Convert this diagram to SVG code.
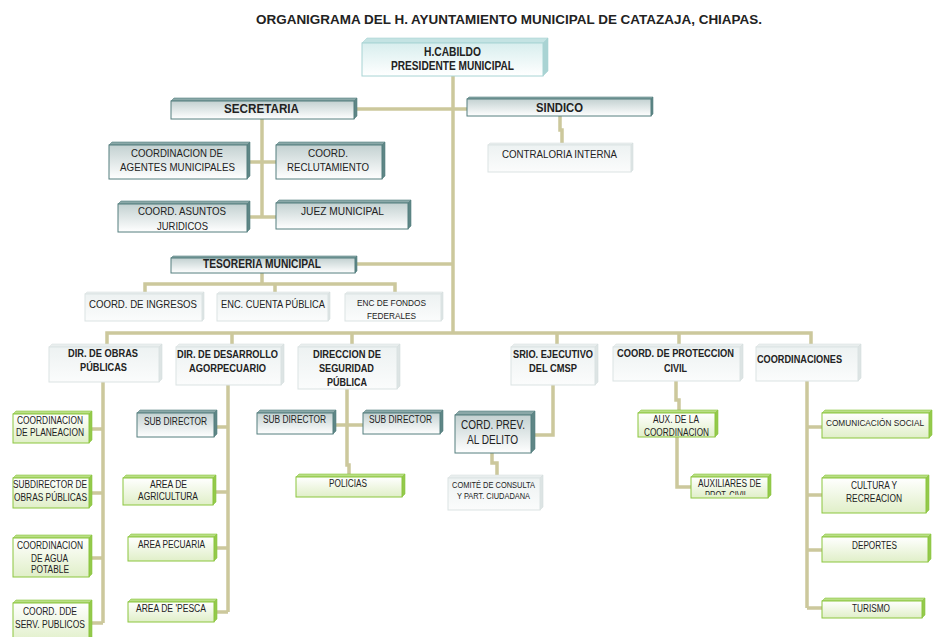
<svg xmlns="http://www.w3.org/2000/svg" width="933" height="637" viewBox="0 0 933 637">
<defs>
<linearGradient id="gDk" x1="0" y1="0" x2="0" y2="1"><stop offset="0" stop-color="#c3d1d1"/><stop offset="1" stop-color="#ffffff"/></linearGradient>
<linearGradient id="gLt" x1="0" y1="0" x2="0" y2="1"><stop offset="0" stop-color="#edf2f2"/><stop offset="1" stop-color="#fbfcfc"/></linearGradient>
<linearGradient id="gGr" x1="0" y1="0" x2="0" y2="1"><stop offset="0" stop-color="#ffffff"/><stop offset="1" stop-color="#e0efc8"/></linearGradient>
<linearGradient id="gCy" x1="0" y1="0" x2="0" y2="1"><stop offset="0" stop-color="#d8eeee"/><stop offset="1" stop-color="#ffffff"/></linearGradient>
<clipPath id="clipAux"><rect x="690" y="470" width="80" height="25"/></clipPath>
</defs>
<style>
text{font-family:"Liberation Sans",Arial,sans-serif;fill:#222;}
.b{font-weight:bold;}
.conn{fill:none;stroke:#ccc89c;stroke-width:3.5;stroke-linejoin:miter;}
.dk{fill:url(#gDk);stroke:#557f7f;stroke-width:1;}
.dkt{fill:#8aa8a8;stroke:#557f7f;stroke-width:0.6;}
.dks{fill:#5f8686;stroke:#557f7f;stroke-width:0.6;}
.lt{fill:url(#gLt);stroke:#dbe3e3;stroke-width:1;}
.ltt{fill:#e9eeee;stroke:#dbe3e3;stroke-width:0.6;}
.lts{fill:#dde4e4;stroke:#d5dddd;stroke-width:0.6;}
.gr{fill:url(#gGr);stroke:#8cc63f;stroke-width:1;}
.grt{fill:#b9de85;stroke:#8cc63f;stroke-width:0.6;}
.grs{fill:#94c94c;stroke:#8cc63f;stroke-width:0.6;}
.cy{fill:url(#gCy);stroke:#a8d4d4;stroke-width:1;}
.cyt{fill:#c4e3e3;stroke:#a8d4d4;stroke-width:0.6;}
.cys{fill:#a9d3d3;stroke:#a8d4d4;stroke-width:0.6;}
</style>
<rect width="933" height="637" fill="#ffffff"/>
<text class="b" x="256" y="24" font-size="13.5" textLength="506" lengthAdjust="spacingAndGlyphs">ORGANIGRAMA DEL H. AYUNTAMIENTO MUNICIPAL DE CATAZAJA, CHIAPAS.</text>

<g id="connectors">
<path class="conn" d="M453,76 V333"/>
<path class="conn" d="M356,109 H467"/>
<path class="conn" d="M262,119 V218"/>
<path class="conn" d="M250,162 H276"/>
<path class="conn" d="M247,217 H276"/>
<path class="conn" d="M560,116 V130 H562 V145"/>
<path class="conn" d="M357,264 H453"/>
<path class="conn" d="M262,273 V284 M145,294 V284 H395 V294 M275,284 V294"/>
<path class="conn" d="M107,347 V333 H811 V347 M232,333 V347 M352,333 V347 M557,333 V347 M679,333 V347"/>
<path class="conn" d="M103,382 V623 M90,429 H103 M90,493 H103 M90,558 H103 M90,623 H103"/>
<path class="conn" d="M228,385 V612 M215,427 H228 M215,492 H228 M215,548 H228 M215,612 H228"/>
<path class="conn" d="M347,389 V465 H349 V477 M333,425 H363"/>
<path class="conn" d="M553,385 V435 H535"/>
<path class="conn" d="M492,453 V463 H497 V478"/>
<path class="conn" d="M676,381 V400 H679 V413"/>
<path class="conn" d="M677,437 V487 H691"/>
<path class="conn" d="M807,381 V608 M807,427 H822 M807,495 H822 M807,550 H822 M807,608 H822"/>
</g>

<g id="n-cabildo">
<polygon class="cyt" points="362,43 367,38 548,38 543,43"/>
<polygon class="cys" points="543,43 548,38 548,71 543,76"/>
<rect class="cy" x="362" y="43" width="181" height="33"/>
<text class="b" x="424" y="56" font-size="12" textLength="57" lengthAdjust="spacingAndGlyphs">H.CABILDO</text>
<text class="b" x="391" y="70" font-size="12" textLength="123" lengthAdjust="spacingAndGlyphs">PRESIDENTE MUNICIPAL</text>
</g>

<g id="n-secretaria">
<polygon class="dkt" points="171,101 174,98 357,98 354,101"/>
<polygon class="dks" points="354,101 357,98 357,116 354,119"/>
<rect class="dk" x="171" y="101" width="183" height="18"/>
<text class="b" x="224" y="113" font-size="13.5" textLength="75" lengthAdjust="spacingAndGlyphs">SECRETARIA</text>
</g>

<g id="n-sindico">
<polygon class="dkt" points="467,99 469,97 653,97 651,99"/>
<polygon class="dks" points="651,99 653,97 653,114 651,116"/>
<rect class="dk" x="467" y="99" width="184" height="17"/>
<text class="b" x="536" y="112" font-size="13.5" textLength="47" lengthAdjust="spacingAndGlyphs">SINDICO</text>
</g>

<g id="n-contraloria">
<polygon class="ltt" points="488,145 490,143 633,143 631,145"/>
<polygon class="lts" points="631,145 633,143 633,170 631,172"/>
<rect class="lt" x="488" y="145" width="143" height="27"/>
<text x="502" y="158" font-size="11" textLength="115" lengthAdjust="spacingAndGlyphs">CONTRALORIA INTERNA</text>
</g>

<g id="n-agentes">
<polygon class="dkt" points="109,145 112,142 250,142 247,145"/>
<polygon class="dks" points="247,145 250,142 250,176 247,179"/>
<rect class="dk" x="109" y="145" width="138" height="34"/>
<text x="131" y="157" font-size="11" textLength="92" lengthAdjust="spacingAndGlyphs">COORDINACION DE</text>
<text x="120" y="171" font-size="11" textLength="115" lengthAdjust="spacingAndGlyphs">AGENTES MUNICIPALES</text>
</g>

<g id="n-reclutamiento">
<polygon class="dkt" points="276,145 279,142 385,142 382,145"/>
<polygon class="dks" points="382,145 385,142 385,176 382,179"/>
<rect class="dk" x="276" y="145" width="106" height="34"/>
<text x="308" y="157" font-size="11" textLength="40" lengthAdjust="spacingAndGlyphs">COORD.</text>
<text x="287" y="171" font-size="11" textLength="82" lengthAdjust="spacingAndGlyphs">RECLUTAMIENTO</text>
</g>

<g id="n-juridicos">
<polygon class="dkt" points="118,204 121,201 250,201 247,204"/>
<polygon class="dks" points="247,204 250,201 250,229 247,232"/>
<rect class="dk" x="118" y="204" width="129" height="28"/>
<text x="138" y="215" font-size="11" textLength="88" lengthAdjust="spacingAndGlyphs">COORD. ASUNTOS</text>
<text x="157" y="230" font-size="11" textLength="51" lengthAdjust="spacingAndGlyphs">JURIDICOS</text>
</g>

<g id="n-juez">
<polygon class="dkt" points="276,203 279,200 411,200 408,203"/>
<polygon class="dks" points="408,203 411,200 411,226 408,229"/>
<rect class="dk" x="276" y="203" width="132" height="26"/>
<text x="301" y="215" font-size="11.5" textLength="83" lengthAdjust="spacingAndGlyphs">JUEZ MUNICIPAL</text>
</g>

<g id="n-tesoreria">
<polygon class="dkt" points="171,258 173,256 357,256 355,258"/>
<polygon class="dks" points="355,258 357,256 357,271 355,273"/>
<rect class="dk" x="171" y="258" width="184" height="15"/>
<text class="b" x="203" y="268" font-size="12" textLength="118" lengthAdjust="spacingAndGlyphs">TESORERIA MUNICIPAL</text>
</g>

<g id="n-ingresos">
<polygon class="ltt" points="85,294 87,292 204,292 202,294"/>
<polygon class="lts" points="202,294 204,292 204,319 202,321"/>
<rect class="lt" x="85" y="294" width="117" height="27"/>
<text x="89" y="308" font-size="11" textLength="108" lengthAdjust="spacingAndGlyphs">COORD. DE INGRESOS</text>
</g>

<g id="n-cuenta">
<polygon class="ltt" points="217,294 219,292 330,292 328,294"/>
<polygon class="lts" points="328,294 330,292 330,319 328,321"/>
<rect class="lt" x="217" y="294" width="111" height="27"/>
<text x="221" y="308" font-size="11" textLength="104" lengthAdjust="spacingAndGlyphs">ENC. CUENTA PÚBLICA</text>
</g>

<g id="n-fondos">
<polygon class="ltt" points="345,294 347,292 443,292 441,294"/>
<polygon class="lts" points="441,294 443,292 443,319 441,321"/>
<rect class="lt" x="345" y="294" width="96" height="27"/>
<text x="357" y="306" font-size="9.5" textLength="69" lengthAdjust="spacingAndGlyphs">ENC DE FONDOS</text>
<text x="367" y="319" font-size="9.5" textLength="49" lengthAdjust="spacingAndGlyphs">FEDERALES</text>
</g>

<g id="n-obras">
<polygon class="ltt" points="49,347 52,344 162,344 159,347"/>
<polygon class="lts" points="159,347 162,344 162,379 159,382"/>
<rect class="lt" x="49" y="347" width="110" height="35"/>
<text class="b" x="68" y="357" font-size="11" textLength="70" lengthAdjust="spacingAndGlyphs">DIR. DE OBRAS</text>
<text class="b" x="80" y="371" font-size="11" textLength="47" lengthAdjust="spacingAndGlyphs">PÚBLICAS</text>
</g>

<g id="n-desarrollo">
<polygon class="ltt" points="176,347 179,344 284,344 281,347"/>
<polygon class="lts" points="281,347 284,344 284,382 281,385"/>
<rect class="lt" x="176" y="347" width="105" height="38"/>
<text class="b" x="177" y="358" font-size="11" textLength="101" lengthAdjust="spacingAndGlyphs">DIR. DE DESARROLLO</text>
<text class="b" x="189" y="372" font-size="11" textLength="77" lengthAdjust="spacingAndGlyphs">AGORPECUARIO</text>
</g>

<g id="n-seguridad">
<polygon class="ltt" points="298,347 301,344 400,344 397,347"/>
<polygon class="lts" points="397,347 400,344 400,386 397,389"/>
<rect class="lt" x="298" y="347" width="99" height="42"/>
<text class="b" x="313" y="358" font-size="11" textLength="68" lengthAdjust="spacingAndGlyphs">DIRECCION DE</text>
<text class="b" x="319" y="372" font-size="11" textLength="55" lengthAdjust="spacingAndGlyphs">SEGURIDAD</text>
<text class="b" x="327" y="386" font-size="11" textLength="40" lengthAdjust="spacingAndGlyphs">PÚBLICA</text>
</g>

<g id="n-srio">
<polygon class="ltt" points="511,347 514,344 598,344 595,347"/>
<polygon class="lts" points="595,347 598,344 598,382 595,385"/>
<rect class="lt" x="511" y="347" width="84" height="38"/>
<text class="b" x="513" y="358" font-size="11" textLength="80" lengthAdjust="spacingAndGlyphs">SRIO. EJECUTIVO</text>
<text class="b" x="529" y="372" font-size="11" textLength="48" lengthAdjust="spacingAndGlyphs">DEL CMSP</text>
</g>

<g id="n-proteccion">
<polygon class="ltt" points="613,347 616,344 743,344 740,347"/>
<polygon class="lts" points="740,347 743,344 743,378 740,381"/>
<rect class="lt" x="613" y="347" width="127" height="34"/>
<text class="b" x="617" y="357" font-size="11" textLength="117" lengthAdjust="spacingAndGlyphs">COORD. DE PROTECCION</text>
<text class="b" x="664" y="372" font-size="11" textLength="23" lengthAdjust="spacingAndGlyphs">CIVIL</text>
</g>

<g id="n-coordinaciones">
<polygon class="ltt" points="756,347 759,344 861,344 858,347"/>
<polygon class="lts" points="858,347 861,344 861,378 858,381"/>
<rect class="lt" x="756" y="347" width="102" height="34"/>
<text class="b" x="757" y="363" font-size="11" textLength="85" lengthAdjust="spacingAndGlyphs">COORDINACIONES</text>
</g>

<g id="n-planeacion">
<polygon class="grt" points="13,414 16,411 92,411 89,414"/>
<polygon class="grs" points="89,414 92,411 92,440 89,443"/>
<rect class="gr" x="13" y="414" width="76" height="29"/>
<text x="17" y="424" font-size="10" textLength="66" lengthAdjust="spacingAndGlyphs">COORDINACION</text>
<text x="16" y="436" font-size="10" textLength="68" lengthAdjust="spacingAndGlyphs">DE PLANEACION</text>
</g>

<g id="n-subobras">
<polygon class="grt" points="13,478 16,475 92,475 89,478"/>
<polygon class="grs" points="89,478 92,475 92,505 89,508"/>
<rect class="gr" x="13" y="478" width="76" height="30"/>
<text x="13" y="488" font-size="10" textLength="74" lengthAdjust="spacingAndGlyphs">SUBDIRECTOR DE</text>
<text x="14" y="501" font-size="10" textLength="73" lengthAdjust="spacingAndGlyphs">OBRAS PÚBLICAS</text>
</g>

<g id="n-agua">
<polygon class="grt" points="13,538 16,535 92,535 89,538"/>
<polygon class="grs" points="89,538 92,535 92,574 89,577"/>
<rect class="gr" x="13" y="538" width="76" height="39"/>
<text x="17" y="549" font-size="10" textLength="66" lengthAdjust="spacingAndGlyphs">COORDINACION</text>
<text x="31" y="562" font-size="10" textLength="37" lengthAdjust="spacingAndGlyphs">DE AGUA</text>
<text x="31" y="573" font-size="10" textLength="38" lengthAdjust="spacingAndGlyphs">POTABLE</text>
</g>

<g id="n-servpub">
<polygon class="grt" points="13,603 16,600 92,600 89,603"/>
<polygon class="grs" points="89,603 92,600 92,637 89,637"/>
<rect class="gr" x="13" y="603" width="76" height="40"/>
<text x="23" y="615" font-size="10" textLength="54" lengthAdjust="spacingAndGlyphs">COORD. DDE</text>
<text x="15" y="628" font-size="10" textLength="70" lengthAdjust="spacingAndGlyphs">SERV. PUBLICOS</text>
</g>

<g id="n-subdir-des">
<polygon class="dkt" points="137,413 140,410 217,410 214,413"/>
<polygon class="dks" points="214,413 217,410 217,434 214,437"/>
<rect class="dk" x="137" y="413" width="77" height="24"/>
<text x="144" y="425" font-size="10" textLength="63" lengthAdjust="spacingAndGlyphs">SUB DIRECTOR</text>
</g>

<g id="n-agricultura">
<polygon class="grt" points="123,478 126,475 216,475 213,478"/>
<polygon class="grs" points="213,478 216,475 216,502 213,505"/>
<rect class="gr" x="123" y="478" width="90" height="27"/>
<text x="150" y="488" font-size="10" textLength="37" lengthAdjust="spacingAndGlyphs">AREA DE</text>
<text x="138" y="500" font-size="10" textLength="60" lengthAdjust="spacingAndGlyphs">AGRICULTURA</text>
</g>

<g id="n-pecuaria">
<polygon class="grt" points="128,537 131,534 217,534 214,537"/>
<polygon class="grs" points="214,537 217,534 217,558 214,561"/>
<rect class="gr" x="128" y="537" width="86" height="24"/>
<text x="138" y="548" font-size="10" textLength="67" lengthAdjust="spacingAndGlyphs">AREA PECUARIA</text>
</g>

<g id="n-pesca">
<polygon class="grt" points="128,602 131,599 217,599 214,602"/>
<polygon class="grs" points="214,602 217,599 217,619 214,622"/>
<rect class="gr" x="128" y="602" width="86" height="20"/>
<text x="136" y="612" font-size="10" textLength="70" lengthAdjust="spacingAndGlyphs">AREA DE 'PESCA</text>
</g>

<g id="n-subdir-seg1">
<polygon class="dkt" points="257,413 260,410 336,410 333,413"/>
<polygon class="dks" points="333,413 336,410 336,431 333,434"/>
<rect class="dk" x="257" y="413" width="76" height="21"/>
<text x="263" y="423" font-size="10" textLength="63" lengthAdjust="spacingAndGlyphs">SUB DIRECTOR</text>
</g>

<g id="n-subdir-seg2">
<polygon class="dkt" points="363,413 366,410 443,410 440,413"/>
<polygon class="dks" points="440,413 443,410 443,431 440,434"/>
<rect class="dk" x="363" y="413" width="77" height="21"/>
<text x="369" y="423" font-size="10" textLength="63" lengthAdjust="spacingAndGlyphs">SUB DIRECTOR</text>
</g>

<g id="n-policias">
<polygon class="grt" points="296,477 299,474 405,474 402,477"/>
<polygon class="grs" points="402,477 405,474 405,494 402,497"/>
<rect class="gr" x="296" y="477" width="106" height="20"/>
<text x="329" y="487" font-size="10" textLength="38" lengthAdjust="spacingAndGlyphs">POLICIAS</text>
</g>

<g id="n-cordprev">
<polygon class="dkt" points="455,415 459,411 535,411 531,415"/>
<polygon class="dks" points="531,415 535,411 535,449 531,453"/>
<rect class="dk" x="455" y="415" width="76" height="38"/>
<text x="461" y="429" font-size="12" textLength="64" lengthAdjust="spacingAndGlyphs">CORD. PREV.</text>
<text x="467" y="444" font-size="12" textLength="51" lengthAdjust="spacingAndGlyphs">AL DELITO</text>
</g>

<g id="n-comite">
<polygon class="ltt" points="448,478 451,475 543,475 540,478"/>
<polygon class="lts" points="540,478 543,475 543,507 540,510"/>
<rect class="lt" x="448" y="478" width="92" height="32"/>
<text x="452" y="488" font-size="8.5" textLength="83" lengthAdjust="spacingAndGlyphs">COMITÉ DE CONSULTA</text>
<text x="457" y="499" font-size="8.5" textLength="73" lengthAdjust="spacingAndGlyphs">Y PART. CIUDADANA</text>
</g>

<g id="n-aux">
<polygon class="grt" points="638,413 641,410 718,410 715,413"/>
<polygon class="grs" points="715,413 718,410 718,434 715,437"/>
<rect class="gr" x="638" y="413" width="77" height="24"/>
<text x="653" y="423" font-size="10" textLength="46" lengthAdjust="spacingAndGlyphs">AUX. DE LA</text>
<text x="644" y="436" font-size="10" textLength="65" lengthAdjust="spacingAndGlyphs">COORDINACION</text>
</g>

<g id="n-auxiliares">
<polygon class="grt" points="691,477 694,474 771,474 768,477"/>
<polygon class="grs" points="768,477 771,474 771,495 768,498"/>
<rect class="gr" x="691" y="477" width="77" height="21"/>
<g clip-path="url(#clipAux)">
<text x="698" y="487" font-size="10" textLength="63" lengthAdjust="spacingAndGlyphs">AUXILIARES DE</text>
<text x="705" y="499" font-size="10" textLength="43" lengthAdjust="spacingAndGlyphs">PROT. CIVIL</text>
</g>
</g>

<g id="n-comunicacion">
<polygon class="grt" points="822,413 825,410 932,410 929,413"/>
<polygon class="grs" points="929,413 932,410 932,435 929,438"/>
<rect class="gr" x="822" y="413" width="107" height="25"/>
<text x="826" y="426" font-size="8.8" textLength="98" lengthAdjust="spacingAndGlyphs">COMUNICACIÓN SOCIAL</text>
</g>

<g id="n-cultura">
<polygon class="grt" points="822,478 825,475 929,475 926,478"/>
<polygon class="grs" points="926,478 929,475 929,510 926,513"/>
<rect class="gr" x="822" y="478" width="104" height="35"/>
<text x="851" y="489" font-size="10" textLength="46" lengthAdjust="spacingAndGlyphs">CULTURA Y</text>
<text x="846" y="502" font-size="10" textLength="56" lengthAdjust="spacingAndGlyphs">RECREACION</text>
</g>

<g id="n-deportes">
<polygon class="grt" points="822,537 825,534 931,534 928,537"/>
<polygon class="grs" points="928,537 931,534 931,559 928,562"/>
<rect class="gr" x="822" y="537" width="106" height="25"/>
<text x="852" y="549" font-size="10" textLength="45" lengthAdjust="spacingAndGlyphs">DEPORTES</text>
</g>

<g id="n-turismo">
<polygon class="grt" points="822,601 825,598 925,598 922,601"/>
<polygon class="grs" points="922,601 925,598 925,615 922,618"/>
<rect class="gr" x="822" y="601" width="100" height="17"/>
<text x="852" y="612" font-size="10" textLength="38" lengthAdjust="spacingAndGlyphs">TURISMO</text>
</g>
</svg>
